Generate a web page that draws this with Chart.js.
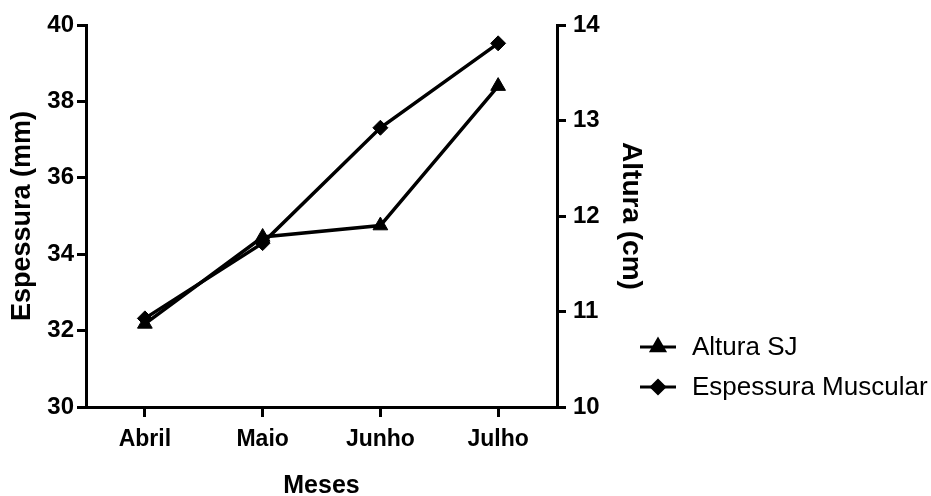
<!DOCTYPE html>
<html>
<head>
<meta charset="utf-8">
<script src="https://cdn.jsdelivr.net/npm/chart.js@4.4.0/dist/chart.umd.min.js"></script>
<style>
  html, body { margin: 0; padding: 0; background: #fff; }
  #wrap { width: 931px; height: 496px; position: relative; }
</style>
</head>
<body>
<div id="wrap"><canvas id="myChart" width="931" height="496"></canvas></div>
<script>
// data
const meses = ['Abril', 'Maio', 'Junho', 'Julho'];
const espessura = [32.32, 34.29, 37.31, 39.52];   // mm, left axis
const altura = [10.87, 11.78, 11.90, 13.36];      // cm, right axis
const espessuraTicks = [30, 32, 34, 36, 38, 40];
const alturaTicks = [10, 11, 12, 13, 14];

const sans = "'Liberation Sans', Arial, sans-serif";

// legend drawn by hand: line + marker + label, stacked on the right
const sideLegend = {
    id: 'sideLegend',
    afterDraw(chart) {
        const ctx = chart.ctx;
        const rows = [347, 387];
        chart.data.datasets.forEach((ds, i) => {
            const y = rows[i];
            ctx.save();
            ctx.strokeStyle = '#000';
            ctx.lineWidth = 3;
            ctx.beginPath();
            ctx.moveTo(640, y);
            ctx.lineTo(676, y);
            ctx.stroke();
            ctx.fillStyle = '#000';
            Chart.helpers.drawPoint(ctx, {
                pointStyle: ds.pointStyle,
                radius: ds.pointRadius - 1,
                borderWidth: 1,
                rotation: 0
            }, 658, y);
            ctx.font = '26px ' + sans;
            ctx.textBaseline = 'middle';
            ctx.textAlign = 'left';
            ctx.fillText(ds.label, 692, y + 1);
            ctx.restore();
        });
    }
};

const renderChart = () => {
    const ctx = document.getElementById('myChart').getContext('2d');
    new Chart(ctx, {
        type: 'line',
        data: {
            labels: meses,
            datasets: [{
                label: 'Altura SJ',
                data: altura,
                yAxisID: 'y1',
                borderColor: '#000',
                backgroundColor: '#000',
                borderWidth: 3.5,
                pointStyle: 'triangle',
                pointRadius: 8.5,
                pointBorderWidth: 1,
                tension: 0
            }, {
                label: 'Espessura Muscular',
                data: espessura,
                yAxisID: 'y',
                borderColor: '#000',
                backgroundColor: '#000',
                borderWidth: 3.5,
                pointStyle: 'rectRot',
                pointRadius: 7.5,
                pointBorderWidth: 1,
                tension: 0
            }]
        },
        options: {
            responsive: false,
            animation: false,
            layout: { padding: { left: 0, top: 25, right: 286, bottom: 0 } },
            plugins: {
                legend: { display: false },
                tooltip: { enabled: false }
            },
            scales: {
                x: {
                    offset: true,
                    grid: { drawOnChartArea: false, drawTicks: true, tickLength: 10, color: '#000', lineWidth: 3, offset: false },
                    border: { display: true, color: '#000', width: 3 },
                    ticks: { color: '#000', padding: 9, font: { family: sans, size: 23, weight: 'bold' } },
                    title: { display: true, text: 'Meses', color: '#000', padding: { top: 0, bottom: 0 },
                             font: { family: sans, size: 25, weight: 'bold', lineHeight: 0.8 } },
                    afterFit(scale) { scale.height = 89; }
                },
                y: {
                    position: 'left',
                    min: 30, max: 40,
                    afterBuildTicks(scale) { scale.ticks = espessuraTicks.map(v => ({ value: v })); },
                    grid: { drawOnChartArea: false, drawTicks: true, tickLength: 9, color: '#000', lineWidth: 3 },
                    border: { display: true, color: '#000', width: 3 },
                    ticks: { color: '#000', padding: 3, font: { family: sans, size: 24, weight: 'bold' } },
                    title: { display: true, text: 'Espessura (mm)', color: '#000', padding: { top: 9, bottom: 0 },
                             font: { family: sans, size: 27, weight: 'bold', lineHeight: 1 } },
                    afterFit(scale) { scale.width = 86; }
                },
                y1: {
                    position: 'right',
                    min: 10, max: 14,
                    afterBuildTicks(scale) { scale.ticks = alturaTicks.map(v => ({ value: v })); },
                    grid: { drawOnChartArea: false, drawTicks: true, tickLength: 9, color: '#000', lineWidth: 3 },
                    border: { display: true, color: '#000', width: 3 },
                    ticks: { color: '#000', padding: 7, font: { family: sans, size: 24, weight: 'bold' } },
                    title: { display: true, text: 'Altura (cm)', color: '#000', padding: { top: 0, bottom: 0 },
                             font: { family: sans, size: 28, weight: 'bold', lineHeight: 1 } },
                    afterFit(scale) { scale.width = 88; }
                }
            }
        },
        plugins: [sideLegend]
    });
};

renderChart();
</script>
</body>
</html>
